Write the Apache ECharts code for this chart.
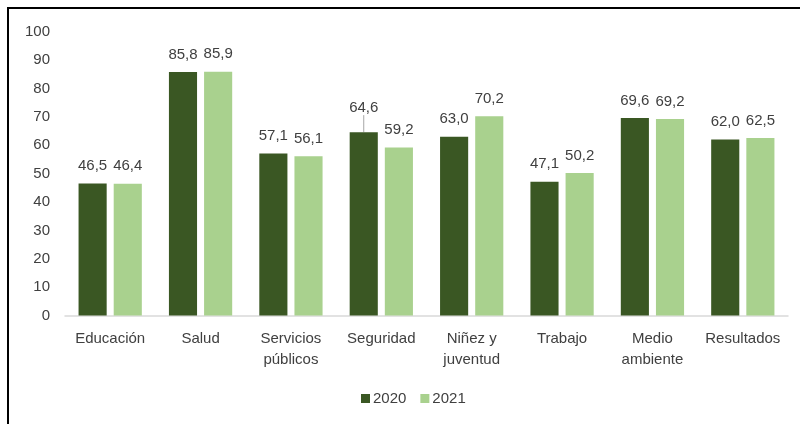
<!DOCTYPE html>
<html>
<head>
<meta charset="utf-8">
<script src="https://cdn.jsdelivr.net/npm/echarts@6/dist/echarts.min.js"></script>
<style>html,body{margin:0;padding:0;background:#fff}#c{width:800px;height:424px}</style>
</head>
<body>
<div id="c"></div>
<script>
const categories = ['Educación', 'Salud', 'Servicios\npúblicos', 'Seguridad', 'Niñez y\njuventud', 'Trabajo', 'Medio\nambiente', 'Resultados'];
const values2020 = [46.5, 85.8, 57.1, 64.6, 63.0, 47.1, 69.6, 62.0];
const values2021 = [46.4, 85.9, 56.1, 59.2, 70.2, 50.2, 69.2, 62.5];
const seriesNames = ['2020', '2021'];
const yTicks = {min: 0, max: 100, interval: 10};
const leaderIndex = 3;

const chart = echarts.init(document.getElementById('c'), null, {renderer: 'canvas'});
const fmt = p => p.value.toFixed(1).replace('.', ',');
const font = 'Liberation Sans';
const txt = '#404040';
chart.setOption({
  animation: false,
  textStyle: {fontFamily: font},
  graphic: [{
    type: 'polyline',
    shape: {points: [[8, 430], [8, 8], [810, 8]]},
    style: {stroke: '#000', lineWidth: 2, fill: null}
  }],
  grid: {left: 65, right: 12, top: 31.6, bottom: 108.4},
  legend: {
    data: seriesNames,
    left: 356, top: 386,
    itemWidth: 9, itemHeight: 9, itemGap: 14,
    icon: 'rect',
    textStyle: {fontSize: 15, color: txt, fontFamily: font, padding: [0, 0, 0, -2]}
  },
  xAxis: {
    type: 'category',
    data: categories,
    axisLine: {lineStyle: {color: '#d9d9d9', width: 1.5}},
    axisTick: {show: false},
    axisLabel: {fontSize: 15, color: txt, lineHeight: 21, margin: 13, interval: 0, fontFamily: font}
  },
  yAxis: {
    type: 'value',
    min: yTicks.min, max: yTicks.max, interval: yTicks.interval,
    axisLine: {show: false},
    axisTick: {show: false},
    splitLine: {show: false},
    axisLabel: {fontSize: 15, color: txt, margin: 15, fontFamily: font}
  },
  series: [
    {
      name: seriesNames[0], type: 'bar',
      data: values2020.map((v, i) => i === leaderIndex
        ? {value: v, labelLine: {show: true, lineStyle: {color: '#a6a6a6', width: 1}}}
        : {value: v, labelLine: {show: false}}),
      barGap: '25%', barCategoryGap: '30%',
      itemStyle: {color: '#3a5723'},
      label: {show: true, position: 'top', distance: 10, fontSize: 15, color: txt, formatter: fmt, fontFamily: font},
      labelLine: {show: false},
      labelLayout: function (p) { return p.dataIndex === leaderIndex ? {dy: -7} : {}; }
    },
    {
      name: seriesNames[1], type: 'bar', data: values2021,
      itemStyle: {color: '#a9d18e'},
      label: {show: true, position: 'top', distance: 10, fontSize: 15, color: txt, formatter: fmt, fontFamily: font}
    }
  ]
});
</script>
</body>
</html>
